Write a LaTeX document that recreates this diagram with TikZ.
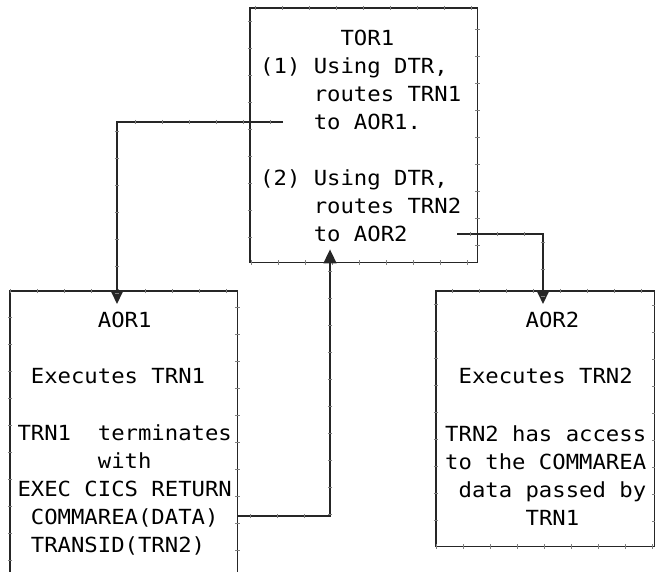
\documentclass[tikz,border=0pt]{standalone}
\usepackage{fontspec}
\setmonofont{DejaVu Sans Mono}[FakeStretch=1.07]
\usetikzlibrary{arrows.meta,decorations.markings}

\tikzset{
  mono/.style={font=\ttfamily\fontsize{20.8}{28}\selectfont, inner sep=0pt,
               anchor=base west, text=black},
  boxarea/.style={rectangle, inner sep=0pt, anchor=north west},
  edgeline/.style={line width=1.7pt, draw=black!85,
    postaction={decorate},
    decoration={markings,
      mark=between positions 13pt and 1 step 27pt with
        {\draw[-, line width=0.6pt, black!50] (0,-2.2pt) -- (0,2.2pt);}}},
  conn/.style={edgeline, -{Triangle[length=14pt,width=13pt]}},
}

\begin{document}
\begin{tikzpicture}[x=1pt, y=-1pt]
\useasboundingbox (0,0) rectangle (655,571);

% box areas
\node[boxarea, minimum width=227pt, minimum height=254pt] (tor1) at (250,8) {};
\node[boxarea, minimum width=227pt, minimum height=282pt] (aor1) at (10,291) {};
\node[boxarea, minimum width=218pt, minimum height=255pt] (aor2) at (436,291) {};

% outlines (AOR1 runs off the bottom, open)
\draw[edgeline] (tor1.north west) rectangle (tor1.south east);
\draw[edgeline] (aor1.south west) -- (aor1.north west) -- (aor1.north east) -- (aor1.south east);
\draw[edgeline] (aor2.north west) rectangle (aor2.south east);

% TOR1 text
\node[mono] (t1) at (260,45)  {~~~~~~TOR1};
\node[mono] (t2) at (260,73)  {(1) Using DTR,};
\node[mono] (t3) at (260,101) {~~~~routes TRN1};
\node[mono] (t4) at (260,129) {~~~~to AOR1.};
\node[mono] (t5) at (260,185) {(2) Using DTR,};
\node[mono] (t6) at (260,213) {~~~~routes TRN2};
\node[mono] (t7) at (260,241) {~~~~to AOR2};

% AOR1 text
\node[mono] (a1) at (17.3,327)   {~~~~~~AOR1};
\node[mono] (a2) at (17.3,383)   {~Executes TRN1};
\node[mono] (a3) at (17.3,440.5) {TRN1~~terminates};
\node[mono] (a4) at (17.3,468.5) {~~~~~~with};
\node[mono] (a5) at (17.3,496.5) {EXEC CICS RETURN};
\node[mono] (a6) at (17.3,524.5) {~COMMAREA(DATA)};
\node[mono] (a7) at (17.3,552.5) {~TRANSID(TRN2)};

% AOR2 text
\node[mono] (b1) at (445,327)   {~~~~~~AOR2};
\node[mono] (b2) at (445,383)   {~Executes TRN2};
\node[mono] (b3) at (445,441)   {TRN2 has access};
\node[mono] (b4) at (445,469)   {to the COMMAREA};
\node[mono] (b5) at (445,497)   {~data passed by};
\node[mono] (b6) at (445,525)   {~~~~~~TRN1};

% connector start points
\coordinate (s1) at (283,122);
\coordinate (s2) at (457,234);
\coordinate (s3) at ([yshift=-225pt]aor1.north east);

% connectors
\draw[conn] (s1) -| ([xshift=107pt,yshift=-13pt]aor1.north west);
\draw[conn] (s2) -| ([xshift=107pt,yshift=-13pt]aor2.north west);
\draw[conn] (s3) -| ([xshift=80pt,yshift=13pt]tor1.south west);
\end{tikzpicture}
\end{document}
